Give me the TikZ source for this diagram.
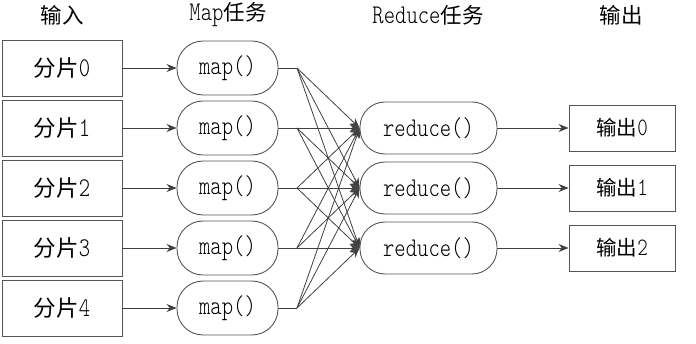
\documentclass[tikz,border=0pt]{standalone}
\usepackage{fontspec}
\newfontfamily\cjk{Noto Sans CJK SC}
\newfontfamily\lat{lmmonolt10-regular}[Extension=.otf,FakeStretch=0.8]
\usetikzlibrary{arrows.meta}
\definecolor{edgegray}{HTML}{555555}
\definecolor{linegray}{HTML}{404040}
\tikzset{
  inbox/.style={draw=edgegray,line width=0.9pt,minimum width=120pt,minimum height=56pt,inner sep=0pt,font=\fontsize{27}{30}\selectfont\lat},
  mapbox/.style={draw=edgegray,line width=0.9pt,minimum width=101pt,minimum height=54pt,rounded corners=26pt,inner sep=0pt,font=\fontsize{27}{30}\selectfont\lat},
  redbox/.style={draw=edgegray,line width=0.9pt,minimum width=137pt,minimum height=52pt,rounded corners=25pt,inner sep=0pt,font=\fontsize{27}{30}\selectfont\lat},
  outbox/.style={draw=edgegray,line width=0.9pt,minimum width=106pt,minimum height=46pt,inner sep=0pt,font=\fontsize{25}{28}\selectfont\lat},
  header/.style={font=\fontsize{27}{30}\selectfont\lat,inner sep=0pt},
  conn/.style={draw=linegray,line width=0.8pt},
  arr/.style={conn,-{Stealth[length=10pt,width=8pt]}}
}
\newcommand{\cjka}[1]{{\fontsize{22.5}{26}\selectfont\cjk #1}}
\newcommand{\cjkb}[1]{{\fontsize{20.5}{24}\selectfont\cjk #1}}
\newcommand{\cjkh}[1]{{\fontsize{21.5}{24}\selectfont\cjk #1}}
\begin{document}
\begin{tikzpicture}[x=1pt,y=-1pt]
\useasboundingbox (0,0) rectangle (696,344);
\node[header] (h1) at (62,15) {\cjkh{输入}};
\node[header] (h2) at (228,15) {Map\cjkh{任务}};
\node[header] (h3) at (428,15) {Reduce\cjkh{任务}};
\node[header] (h4) at (621,15) {\cjkh{输出}};
\foreach \i in {0,...,4}{
  \node[inbox] (in\i) at (62,68+60*\i) {\cjka{分片}\i};
  \node[mapbox] (map\i) at (227.5,68+60*\i) {map()};
  \coordinate (b\i) at (297,68+60*\i);
  \draw[arr] (in\i) -- (map\i);
  \draw[conn] (map\i.east) -- (b\i);
}
\foreach \j in {0,1,2}{
  \node[redbox] (red\j) at (428.5,128+60*\j) {reduce()};
  \node[outbox] (out\j) at (622,128+60*\j) {\cjkb{输出}\j};
  \draw[arr] (red\j) -- (out\j);
}
\foreach \i in {0,...,4}{
  \foreach \j in {0,1,2}{
    \draw[arr] (b\i) -- (red\j.west);
  }
}
\end{tikzpicture}
\end{document}
